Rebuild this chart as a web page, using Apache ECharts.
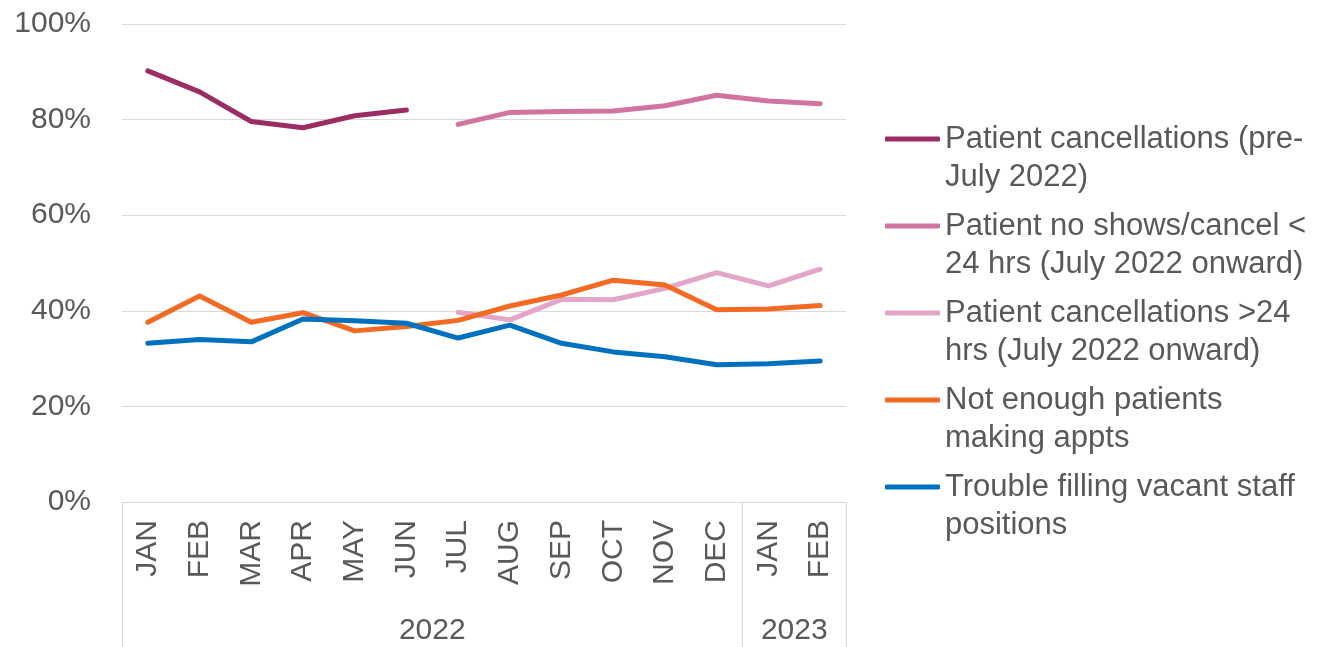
<!DOCTYPE html>
<html>
<head>
<meta charset="utf-8">
<script src="https://cdn.jsdelivr.net/npm/echarts@6/dist/echarts.min.js"></script>
<style>
html, body { margin: 0; padding: 0; background: #fff; }
#chart { width: 1319px; height: 647px; }
</style>
</head>
<body>
<div id="chart"></div>
<script>
// categories (month axis) and the year band under it
var months = ['JAN','FEB','MAR','APR','MAY','JUN','JUL','AUG','SEP','OCT','NOV','DEC','JAN','FEB'];
var years = ['2022', '2023'];
var yearCenters = [6, 13];      // middle of each year group, in month units
var yearBounds = [0, 12, 14];   // group edges, in month units

// series values (%)
var cancelPre    = [90.2, 85.8, 79.6, 78.3, 80.8, 82.0, null, null, null, null, null, null, null, null];
var noShowLt24   = [null, null, null, null, null, null, 79.0, 81.5, 81.7, 81.8, 82.9, 85.1, 83.9, 83.3];
var cancelGt24   = [null, null, null, null, null, null, 39.7, 38.1, 42.4, 42.3, 44.7, 48.0, 45.2, 48.7];
var notEnough    = [37.6, 43.1, 37.6, 39.6, 35.8, 36.7, 38.0, 41.0, 43.3, 46.4, 45.4, 40.2, 40.4, 41.1];
var troubleStaff = [33.2, 34.0, 33.5, 38.3, 37.9, 37.4, 34.3, 37.0, 33.2, 31.4, 30.4, 28.7, 28.9, 29.5];

var seriesNames = [
    'Patient cancellations (pre-July 2022)',
    'Patient no shows/cancel < 24 hrs (July 2022 onward)',
    'Patient cancellations >24 hrs (July 2022 onward)',
    'Not enough patients making appts',
    'Trouble filling vacant staff positions'
];
// legend wording as wrapped in the original
var legendText = {};
legendText[seriesNames[0]] = 'Patient cancellations (pre-\nJuly 2022)';
legendText[seriesNames[1]] = 'Patient no shows/cancel <\n24 hrs (July 2022 onward)';
legendText[seriesNames[2]] = 'Patient cancellations >24\nhrs (July 2022 onward)';
legendText[seriesNames[3]] = 'Not enough patients\nmaking appts';
legendText[seriesNames[4]] = 'Trouble filling vacant staff\npositions';

var colors = ['#9B2D62', '#D274A1', '#E3A5C8', '#F26A24', '#0071BF'];
var yTicks = [0, 20, 40, 60, 80, 100];

var textColor = '#595959';
var gridColor = '#D9D9D9';
var font = 'Liberation Sans, Arial, sans-serif';

function makeLine(name, data, color) {
    return {
        name: name,
        type: 'line',
        data: data,
        color: color,
        symbol: 'none',
        connectNulls: false,
        lineStyle: { width: 5, color: color, cap: 'round', join: 'round' },
        emphasis: { disabled: true }
    };
}

var chart = echarts.init(document.getElementById('chart'));
var option = {
    animation: false,
    backgroundColor: '#fff',
    textStyle: { fontFamily: font },
    grid: { left: 122, right: 473, top: 24, bottom: 145, containLabel: false },
    legend: {
        orient: 'vertical',
        left: 885,
        top: 82,
        padding: 0,
        itemGap: -27,
        itemWidth: 55,
        itemHeight: 5,
        icon: 'roundRect',
        selectedMode: false,
        data: seriesNames,
        // empty first line so the icon sits on the first text line
        formatter: function (n) { return '\n' + legendText[n]; },
        textStyle: { color: textColor, fontSize: 31, fontFamily: font, lineHeight: 38 }
    },
    xAxis: [{
        type: 'category',
        data: months,
        boundaryGap: true,
        axisLine: { show: true, lineStyle: { color: gridColor, width: 1 } },
        axisTick: { show: false },
        axisLabel: { rotate: 90, margin: 18, color: textColor, fontSize: 30, fontFamily: font, interval: 0 }
    }, {
        type: 'value',
        min: 0,
        max: months.length,
        position: 'bottom',
        axisLine: { show: false },
        splitLine: { show: false },
        axisTick: {
            show: true, inside: false, length: 145,
            customValues: yearBounds,
            lineStyle: { color: gridColor, width: 1 }
        },
        axisLabel: {
            customValues: yearCenters,
            margin: 114,
            color: textColor, fontSize: 30, fontFamily: font,
            formatter: function (v) { return years[yearCenters.indexOf(v)]; }
        }
    }],
    yAxis: {
        type: 'value',
        min: 0,
        max: 100,
        interval: 20,
        axisLine: { show: false },
        axisTick: { show: false },
        splitLine: { lineStyle: { color: gridColor, width: 1 } },
        axisLabel: {
            margin: 31, color: textColor, fontSize: 30, fontFamily: font,
            formatter: function (v) { return yTicks.indexOf(v) >= 0 ? v + '%' : ''; }
        }
    },
    series: [
        makeLine(seriesNames[0], cancelPre, colors[0]),
        makeLine(seriesNames[1], noShowLt24, colors[1]),
        makeLine(seriesNames[2], cancelGt24, colors[2]),
        makeLine(seriesNames[3], notEnough, colors[3]),
        makeLine(seriesNames[4], troubleStaff, colors[4])
    ]
};
chart.setOption(option);
</script>
</body>
</html>
